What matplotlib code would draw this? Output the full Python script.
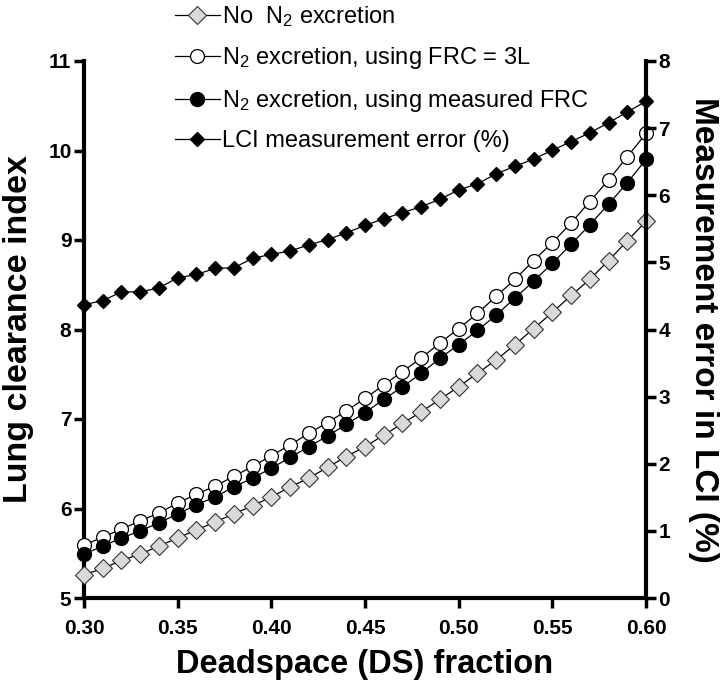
import matplotlib
matplotlib.use("Agg")
import matplotlib.pyplot as plt

plt.rcParams['font.family'] = ['Liberation Sans', 'DejaVu Sans']
plt.rcParams['mathtext.fontset'] = 'custom'
plt.rcParams['mathtext.rm'] = 'Liberation Sans'

# deadspace fraction
ds = [0.30, 0.31, 0.32, 0.33, 0.34, 0.35, 0.36, 0.37, 0.38, 0.39,
      0.40, 0.41, 0.42, 0.43, 0.44, 0.45, 0.46, 0.47, 0.48, 0.49,
      0.50, 0.51, 0.52, 0.53, 0.54, 0.55, 0.56, 0.57, 0.58, 0.59, 0.60]

# LCI, no N2 excretion
lci_no_n2 = [5.26, 5.33, 5.42, 5.49, 5.58, 5.67, 5.76, 5.85, 5.94, 6.03,
             6.13, 6.24, 6.34, 6.46, 6.58, 6.69, 6.82, 6.95, 7.08, 7.22,
             7.36, 7.51, 7.66, 7.83, 8.01, 8.19, 8.38, 8.56, 8.77, 8.99, 9.21]

# LCI, N2 excretion with FRC = 3L
lci_frc3 = [5.59, 5.68, 5.77, 5.86, 5.95, 6.06, 6.16, 6.25, 6.36, 6.47,
            6.59, 6.71, 6.84, 6.96, 7.09, 7.23, 7.38, 7.53, 7.68, 7.85,
            8.01, 8.18, 8.37, 8.56, 8.77, 8.97, 9.19, 9.43, 9.67, 9.93, 10.19]

# LCI, N2 excretion with measured FRC
lci_meas = [5.49, 5.58, 5.67, 5.75, 5.84, 5.94, 6.04, 6.13, 6.24, 6.34,
            6.45, 6.57, 6.69, 6.81, 6.94, 7.07, 7.22, 7.36, 7.51, 7.68,
            7.83, 7.99, 8.16, 8.35, 8.54, 8.74, 8.95, 9.17, 9.40, 9.64, 9.90]

# measurement error (%), right axis
err_pct = [4.37, 4.43, 4.56, 4.56, 4.62, 4.77, 4.82, 4.91, 4.92, 5.06,
           5.12, 5.17, 5.26, 5.34, 5.44, 5.55, 5.65, 5.74, 5.83, 5.94,
           6.08, 6.17, 6.32, 6.43, 6.54, 6.67, 6.80, 6.93, 7.08, 7.24, 7.40]

labels = [r'No  $\mathregular{N_2}$ excretion',
          r'$\mathregular{N_2}$ excretion, using FRC = 3L',
          r'$\mathregular{N_2}$ excretion, using measured FRC',
          'LCI measurement error (%)']

W, H = 726, 690
fig = plt.figure(figsize=(W / 100, H / 100), dpi=100)
ax = fig.add_axes([84 / W, 92 / H, 562 / W, 537 / H])
ax2 = ax.twinx()

lw = 0.9
h1, = ax.plot(ds, lci_no_n2, '-D', color='black', lw=lw, ms=9.5,
              mfc='#d9d9d9', mec='#333333', mew=0.8, clip_on=False, zorder=3)
h2, = ax.plot(ds, lci_frc3, '-o', color='black', lw=lw, ms=10,
              mfc='white', mec='black', mew=0.9, clip_on=False, zorder=4)
h3, = ax.plot(ds, lci_meas, '-o', color='black', lw=lw, ms=10,
              mfc='black', mec='black', clip_on=False, zorder=5)
h4, = ax2.plot(ds, err_pct, '-D', color='black', lw=lw, ms=7.5,
               mfc='black', mec='black', clip_on=False, zorder=3)

ax.set_xlim(0.30, 0.60)
ax.set_ylim(5, 11)
ax2.set_ylim(0, 8)
ax.set_xticks([0.30, 0.35, 0.40, 0.45, 0.50, 0.55, 0.60])
ax.set_xticklabels(['0.30', '0.35', '0.40', '0.45', '0.50', '0.55', '0.60'])
ax.set_yticks(range(5, 12))
ax2.set_yticks(range(0, 9))

for a in (ax, ax2):
    a.spines['top'].set_visible(False)
    for s in a.spines.values():
        s.set_linewidth(3)
    a.tick_params(width=2.5, length=7, labelsize=15, pad=2)
    for t in a.get_xticklabels() + a.get_yticklabels():
        t.set_fontweight('bold')
ax.spines['right'].set_visible(False)
ax2.spines['left'].set_visible(False)
ax2.spines['bottom'].set_visible(False)
ax.tick_params(axis='x', pad=8)

ax.set_xlabel('Deadspace (DS) fraction', fontsize=23.5, fontweight='bold', labelpad=8)
ax.set_ylabel('Lung clearance index', fontsize=24.5, fontweight='bold', labelpad=10)
ax2.set_ylabel('Measurement error in LCI (%)', fontsize=24, fontweight='bold',
               rotation=270, va='bottom', labelpad=13)

fig.legend([h1, h2, h3, h4], labels, loc='upper left',
           bbox_to_anchor=(175 / W, 1 - 4 / H), frameon=False, fontsize=17,
           handlelength=1.9, handletextpad=0.1, labelspacing=0.7,
           borderpad=0, borderaxespad=0, numpoints=1)

fig.savefig('out.png', dpi=100)
